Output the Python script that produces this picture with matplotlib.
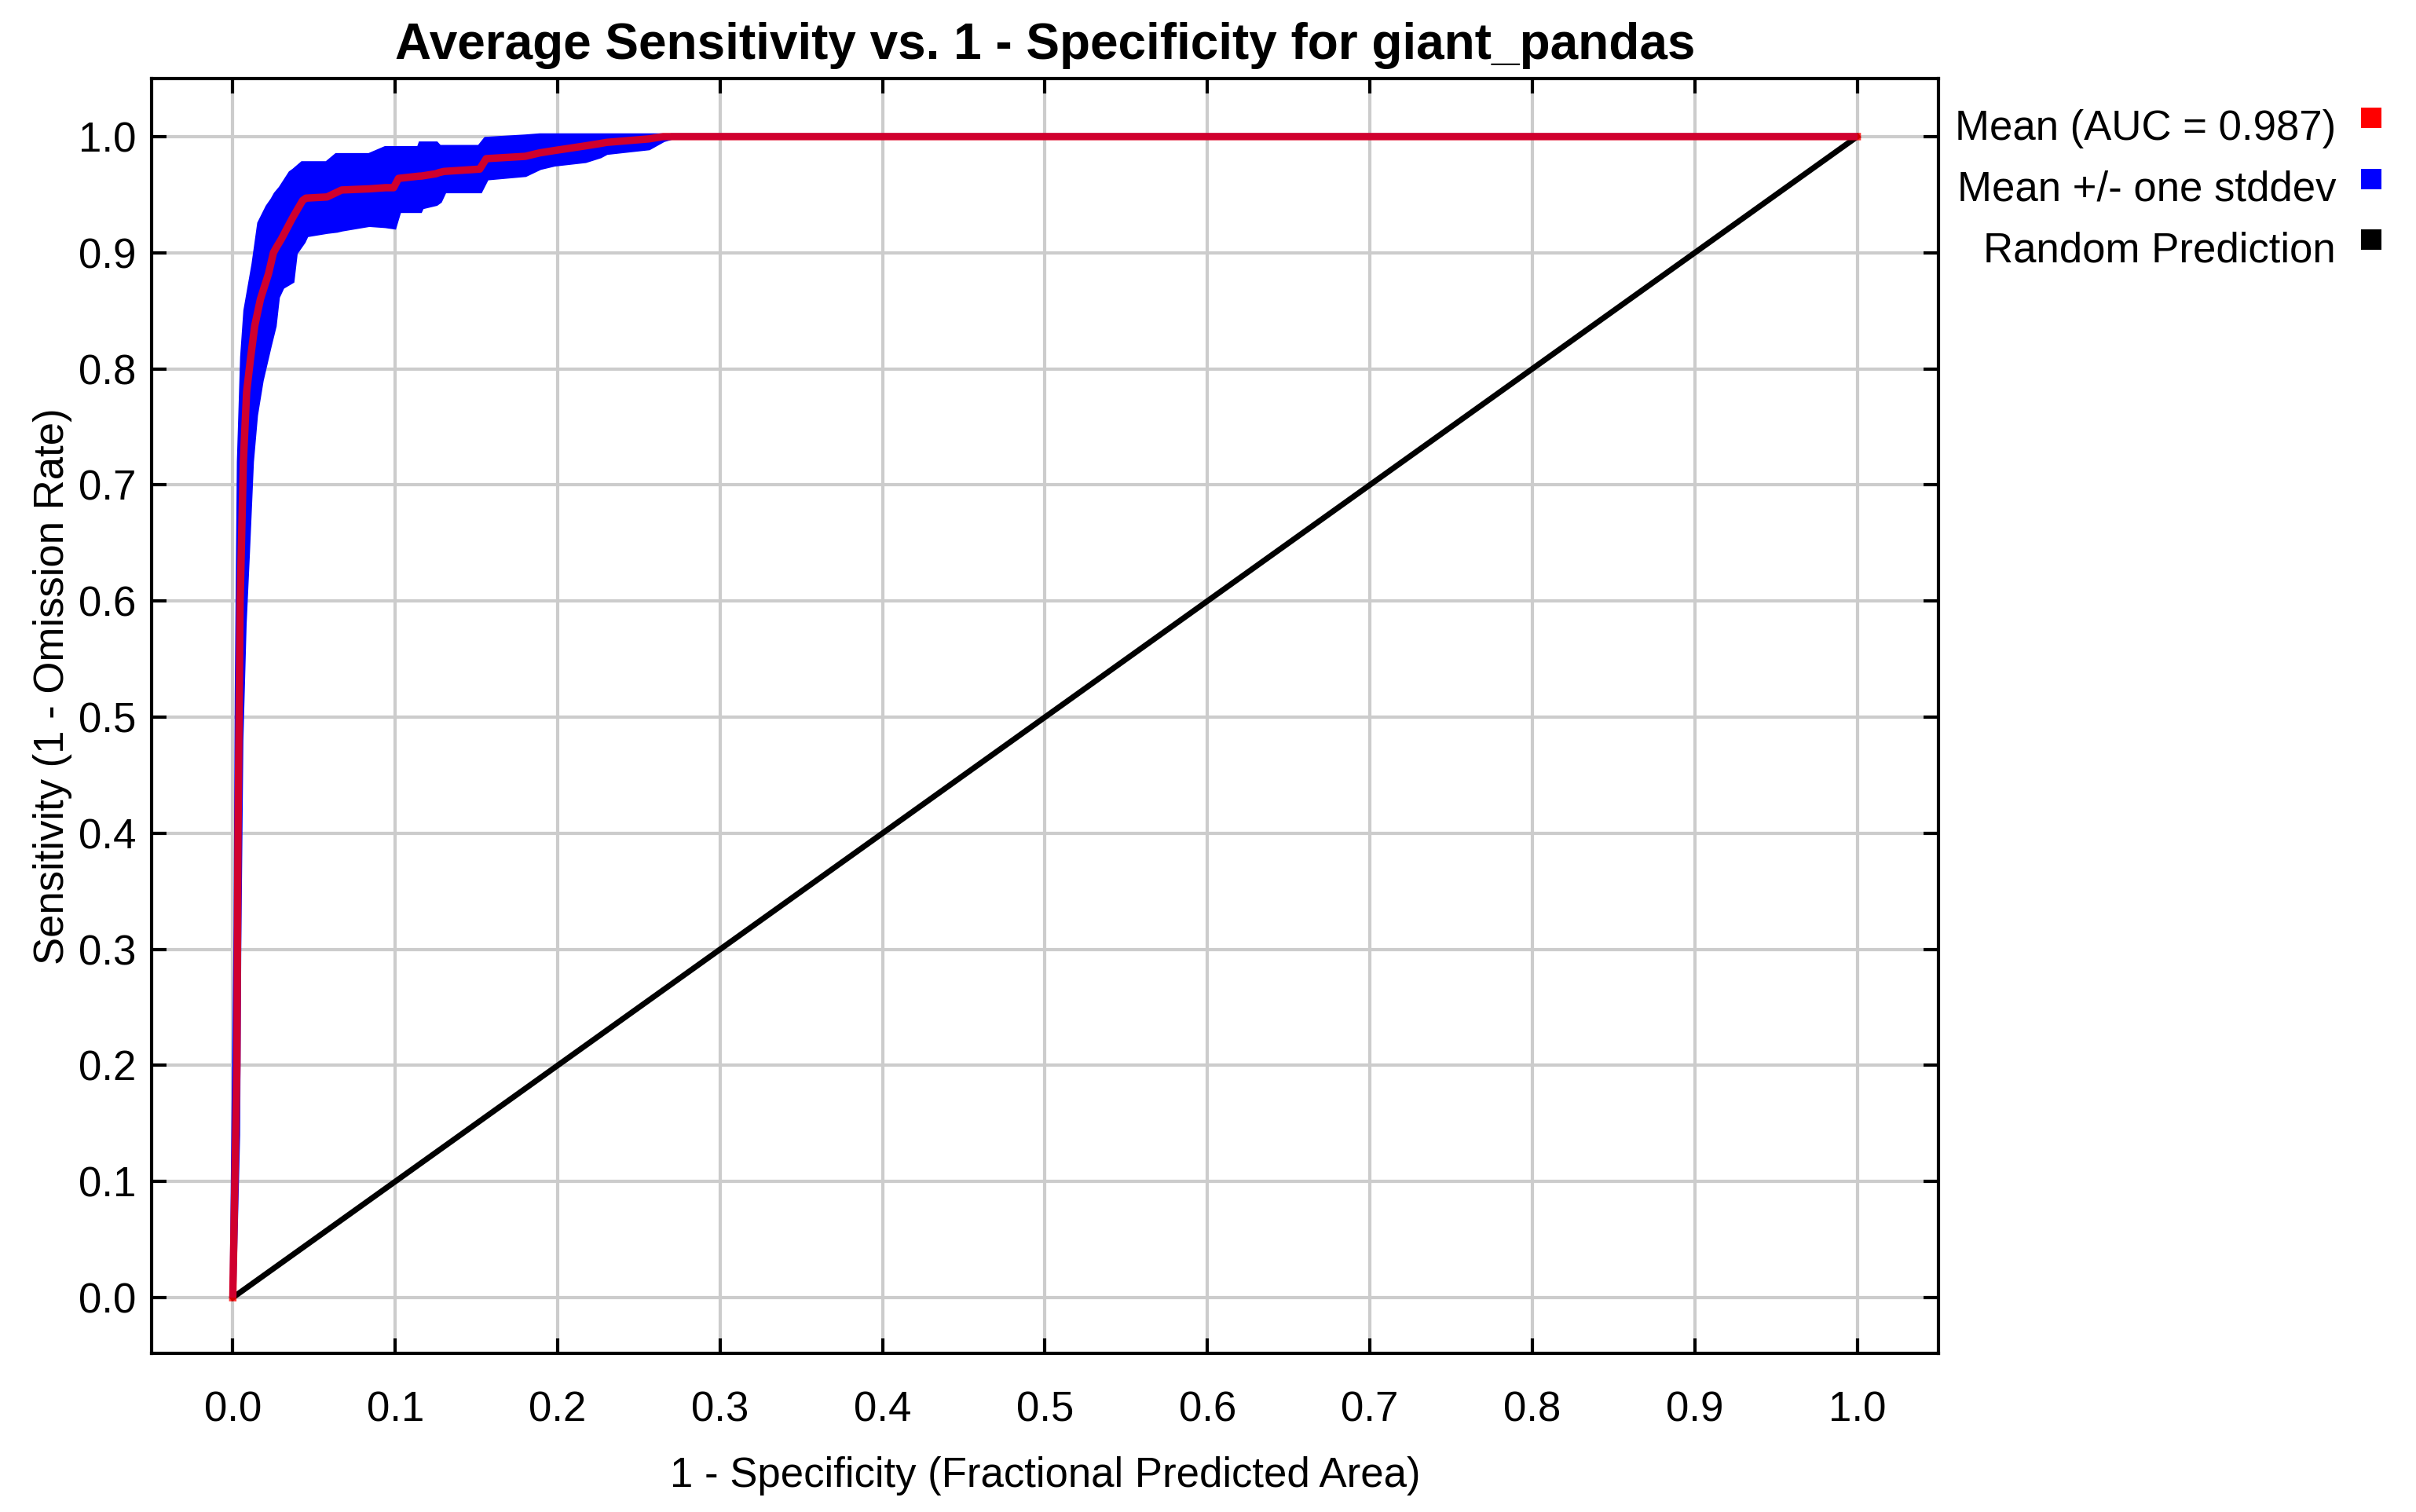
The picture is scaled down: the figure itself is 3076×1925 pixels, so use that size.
import numpy as np
import matplotlib
matplotlib.use("Agg")
import matplotlib.pyplot as plt
from matplotlib.patches import Rectangle

plt.rcParams['font.family'] = ['Liberation Sans', 'DejaVu Sans']

# 1 - specificity (fractional predicted area)
frac_area = [0.0, 0.0025, 0.0032, 0.0045, 0.0065, 0.0085, 0.011, 0.0135, 0.017, 0.022,
             0.025, 0.027, 0.030, 0.036, 0.038, 0.043, 0.045, 0.058, 0.064, 0.067,
             0.084, 0.094, 0.099, 0.102, 0.115, 0.116, 0.125, 0.127, 0.130, 0.152,
             0.156, 0.180, 0.189, 0.198, 0.217, 0.226, 0.230, 0.256, 0.265, 0.27, 1.0]
# mean sensitivity
sens_mean = [0.0, 0.20, 0.40, 0.60, 0.72, 0.78, 0.81, 0.837, 0.86, 0.882,
             0.90, 0.905, 0.912, 0.928, 0.933, 0.945, 0.947, 0.948, 0.952, 0.954,
             0.955, 0.956, 0.956, 0.964, 0.966, 0.966, 0.968, 0.969, 0.970, 0.972,
             0.981, 0.983, 0.986, 0.988, 0.992, 0.994, 0.995, 0.998, 1.0, 1.0, 1.0]
# mean + one stddev
sens_upper = [0.0, 0.32, 0.52, 0.72, 0.81, 0.85, 0.87, 0.89, 0.925, 0.939,
              0.945, 0.950, 0.955, 0.968, 0.970, 0.976, 0.976, 0.976, 0.983, 0.983,
              0.983, 0.989, 0.989, 0.989, 0.989, 0.993, 0.993, 0.990, 0.990, 0.990,
              0.997, 0.999, 1.0, 1.0, 1.0, 1.0, 1.0, 1.0, 1.0, 1.0, 1.0]
# mean - one stddev
sens_lower = [0.0, 0.14, 0.30, 0.48, 0.58, 0.64, 0.72, 0.76, 0.79, 0.82,
              0.837, 0.862, 0.871, 0.876, 0.90, 0.910, 0.916, 0.919, 0.920, 0.921,
              0.925, 0.924, 0.923, 0.937, 0.937, 0.940, 0.943, 0.945, 0.954, 0.954,
              0.965, 0.968, 0.974, 0.977, 0.980, 0.984, 0.987, 0.991, 0.998, 1.0, 1.0]
random_pred = [0.0, 1.0]

auc = 0.987
species = "giant_pandas"
ticks = np.round(np.arange(0, 1.01, 0.1), 1)

W, H = 3076, 1925
fig = plt.figure(figsize=(W / 200, H / 200), dpi=200)
ax = fig.add_axes([193 / W, 1 - 1723 / H, 2275 / W, 1623 / H])

ax.plot(random_pred, random_pred, color='black', lw=2.6, zorder=3)

band_x = np.concatenate([frac_area, frac_area[::-1]])
band_y = np.concatenate([sens_upper, sens_lower[::-1]])
ax.fill(band_x, band_y, facecolor='#0000ff', edgecolor='#0000ff', lw=3.0,
        joinstyle='miter', zorder=4)
ax.plot(frac_area, sens_mean, color='#ff0000', lw=3.4, alpha=0.82, zorder=5)

ax.set_xlim(-0.05, 1.05)
ax.set_ylim(-0.048, 1.05)
ax.set_xticks(ticks)
ax.set_yticks(ticks)
ax.set_xticklabels([f"{t:.1f}" for t in ticks])
ax.set_yticklabels([f"{t:.1f}" for t in ticks])
ax.grid(True, color='#cccccc', lw=1.5)
ax.set_axisbelow(True)
for s in ax.spines.values():
    s.set_linewidth(1.5)
ax.tick_params(axis='both', direction='in', length=7, width=1.5,
               top=True, right=True, labelsize=19)
ax.tick_params(axis='x', pad=17)
ax.tick_params(axis='y', pad=7)

ax.set_title(f"Average Sensitivity vs. 1 - Specificity for {species}",
             fontsize=23, fontweight='bold', pad=9)
ax.set_xlabel("1 - Specificity (Fractional Predicted Area)", fontsize=19, labelpad=12)
ax.set_ylabel("Sensitivity (1 - Omission Rate)", fontsize=19, labelpad=4)
ax.yaxis.set_label_coords(-0.0445, 0.523)

# legend drawn as text plus small colour squares, like the original tool
legend_items = [(f"Mean (AUC = {auc})", '#ff0000', 178),
                ("Mean +/- one stddev", '#0000ff', 256),
                ("Random Prediction", '#000000', 333)]
for label, col, base in legend_items:
    fig.text(2974 / W, 1 - base / H, label, ha='right', va='baseline', fontsize=19)
    fig.patches.append(Rectangle((3006 / W, 1 - (base - 15) / H), 26 / W, 26 / H,
                                 transform=fig.transFigure, facecolor=col,
                                 edgecolor='none'))

fig.savefig("out.png", dpi=200, facecolor='white')
